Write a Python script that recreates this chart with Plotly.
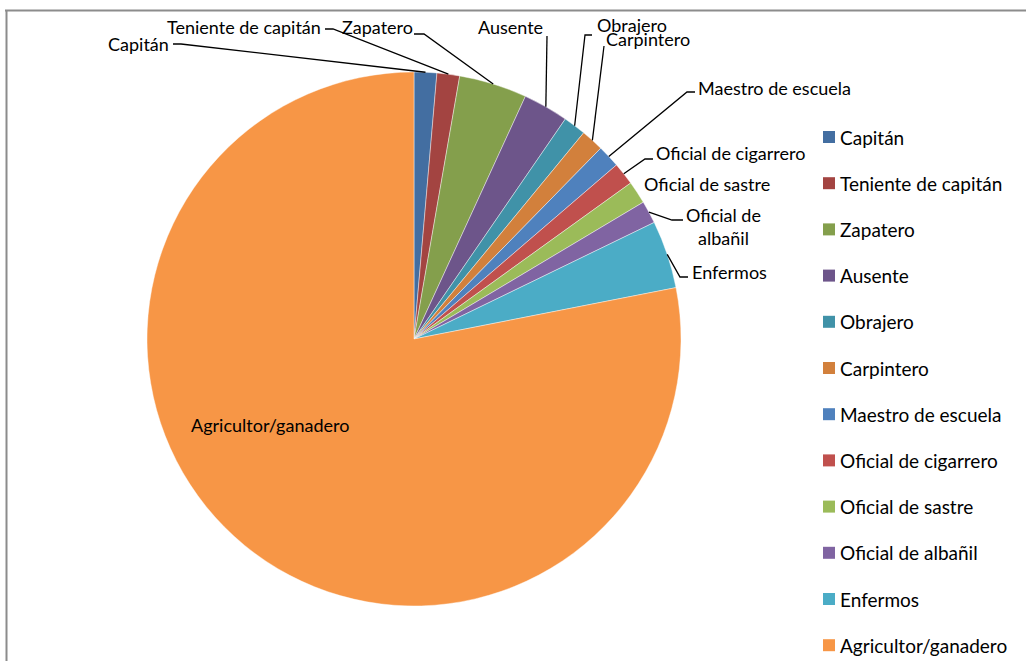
import math
import plotly.graph_objects as go

# ---- data ----
categories = ["Capitán", "Teniente de capitán", "Zapatero", "Ausente", "Obrajero",
              "Carpintero", "Maestro de escuela", "Oficial de cigarrero",
              "Oficial de sastre", "Oficial de albañil", "Enfermos", "Agricultor/ganadero"]
values = [1, 1, 3, 2, 1, 1, 1, 1, 1, 1, 3, 57]
colors = ["#436EA1", "#A34441", "#849F4C", "#6D558A", "#4092A8", "#D2803C",
          "#4F81BD", "#C0504D", "#9BBB59", "#8064A2", "#4BACC6", "#F79646"]
label_texts = ["Capitán", "Teniente de capitán", "Zapatero", "Ausente", "Obrajero",
               "Carpintero", "Maestro de escuela", "Oficial de cigarrero",
               "Oficial de sastre", "Oficial de<br>albañil", "Enfermos", "Agricultor/ganadero"]

# ---- layout constants (pixels) ----
W, H = 1026, 661
CX, CY, R = 414, 339, 267
FONT = "Lato"
# label placement: (x, y, xanchor)
label_pos = [(171, 44, "right"), (323, 27, "right"), (340, 27, "left"), (510, 27, "center"),
             (595, 25, "left"), (604, 39, "left"), (696, 88, "left"), (654, 153, "left"),
             (642, 184, "left"), (723, 226, "center"), (690, 272, "left"), (270, 425, "center")]
# leader elbows near labels (None = no leader)
leader_pts = [[(173, 44), (181, 44)], [(325, 29), (333, 29)], [(414, 34), (424, 34)],
              [(547, 36)], [(592, 35), (585, 35)], [(604, 46)], [(695, 92), (687, 92)],
              [(653, 159), (645, 159)], None, [(683, 220), (672, 220)],
              [(688, 277), (680, 277)], None]


def px(x):
    return x / W


def py(y):
    return 1 - y / H


fig = go.Figure()
fig.add_trace(go.Pie(
    labels=categories, values=values, sort=False, direction="clockwise", rotation=0,
    marker=dict(colors=colors, line=dict(color="rgba(255,255,255,0.6)", width=0.7)),
    textinfo="none", hoverinfo="label+value+percent", showlegend=False,
    domain=dict(x=[px(CX - R), px(CX + R)], y=[py(CY + R), py(CY - R)]),
))

shapes = []
annotations = []
total = sum(values)
cum = 0
for i, v in enumerate(values):
    theta = 2 * math.pi * (cum + v / 2) / total
    cum += v
    ax_ = CX + R * math.sin(theta)
    ay_ = CY - R * math.cos(theta)
    lx, ly, anc = label_pos[i]
    annotations.append(dict(x=px(lx), y=py(ly), xref="paper", yref="paper",
                            text=label_texts[i], showarrow=False, xanchor=anc,
                            yanchor="middle", align="center",
                            font=dict(family=FONT, size=18, color="#000")))
    if leader_pts[i]:
        pts = leader_pts[i] + [(ax_, ay_)]
        path = "M " + " L ".join(f"{px(x):.5f},{py(y):.5f}" for x, y in pts)
        shapes.append(dict(type="path", path=path, xref="paper", yref="paper",
                           line=dict(color="#000", width=1.3)))

# manual legend
LEG_X, LEG_Y0, LEG_DY, SQ = 823, 137, 46.2, 12
for i, name in enumerate(categories):
    yc = LEG_Y0 + i * LEG_DY
    shapes.append(dict(type="rect", xref="paper", yref="paper",
                       x0=px(LEG_X), x1=px(LEG_X + SQ), y0=py(yc - SQ / 2), y1=py(yc + SQ / 2),
                       fillcolor=colors[i], line=dict(width=0)))
    annotations.append(dict(x=px(LEG_X + SQ + 3), y=py(yc), xref="paper", yref="paper",
                            text=name, showarrow=False, xanchor="left", yanchor="middle",
                            font=dict(family=FONT, size=19, color="#000")))

# chart border (top & left visible)
shapes.append(dict(type="line", xref="paper", yref="paper", x0=px(5), x1=px(W + 5),
                   y0=py(10.5), y1=py(10.5), line=dict(color="#8c8c8c", width=2)))
shapes.append(dict(type="line", xref="paper", yref="paper", x0=px(6.5), x1=px(6.5),
                   y0=py(10), y1=py(H + 5), line=dict(color="#8c8c8c", width=2)))

fig.update_layout(width=W, height=H, margin=dict(l=0, r=0, t=0, b=0),
                  paper_bgcolor="white", plot_bgcolor="white",
                  shapes=shapes, annotations=annotations, showlegend=False,
                  font=dict(family=FONT))
fig.write_html("out.html", config={"displayModeBar": False},
               post_script="document.body.style.margin='0px';")
